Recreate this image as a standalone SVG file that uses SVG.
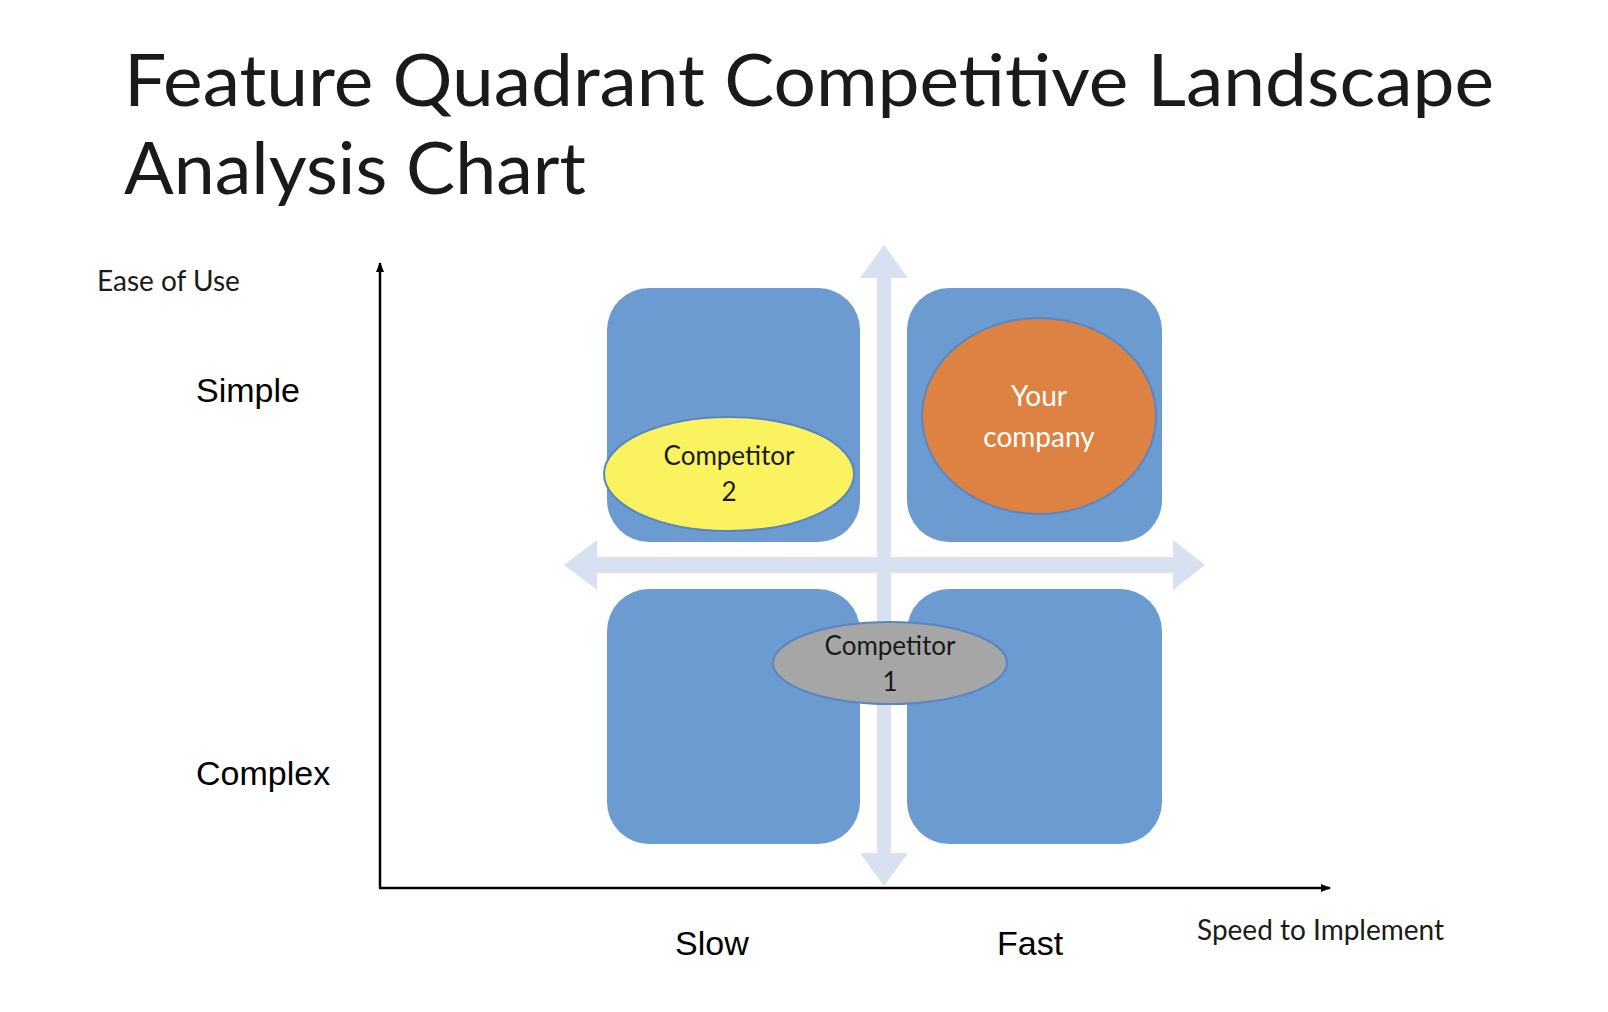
<svg xmlns="http://www.w3.org/2000/svg" width="1608" height="1012" viewBox="0 0 1608 1012">
<defs>
<style>
.c{font-family:Lato,"Open Sans",sans-serif;fill:#1a1a1a}
.a{font-family:"Liberation Sans",Arial,sans-serif;fill:#000;font-size:34px}
.box{fill:#6b9bd1}
.lt{fill:#d7e1f1}
.el{stroke:#5b85c0;stroke-width:2}
</style>
<marker id="ah" markerWidth="10" markerHeight="8" refX="9" refY="4" orient="auto" markerUnits="userSpaceOnUse"><path d="M0,0L10,4L0,8z" fill="#000"/></marker>
</defs>
<rect width="1608" height="1012" fill="#fff"/>
<text class="c" x="124" y="106" font-size="72" textLength="1370" lengthAdjust="spacingAndGlyphs">Feature Quadrant Competitive Landscape</text>
<text class="c" x="124" y="194" font-size="72" textLength="462" lengthAdjust="spacingAndGlyphs">Analysis Chart</text>
<text class="c" x="97" y="291" font-size="28">Ease of Use</text>
<text class="a" x="196" y="402">Simple</text>
<text class="a" x="196" y="785">Complex</text>
<text class="a" x="675" y="955">Slow</text>
<text class="a" x="997" y="955">Fast</text>
<text class="c" x="1197" y="940" font-size="28">Speed to Implement</text>
<g id="connectors">
<line x1="380" y1="888" x2="380" y2="263" stroke="#000" stroke-width="2.5" marker-end="url(#ah)"/>
<line x1="379" y1="888" x2="1330" y2="888" stroke="#000" stroke-width="2.5" marker-end="url(#ah)"/>
</g>
<g id="quadrants">
<rect class="box" x="607" y="288" width="253" height="254" rx="42"/>
<rect class="box" x="907" y="288" width="255" height="254" rx="42"/>
<rect class="box" x="607" y="589" width="253" height="255" rx="42"/>
<rect class="box" x="907" y="589" width="255" height="255" rx="42"/>
</g>
<g id="cross">
<path class="lt" d="M884,245L908,278H891V557H1173V540L1205,565L1173,590V573H891V853H908L884,886L860,853H877V573H597V590L564,565L597,540V557H877V278H860Z"/>
</g>
<g id="competitor2">
<ellipse class="el" cx="729" cy="474" rx="125" ry="57" fill="#fbf25f"/>
<text class="c" x="729" y="465" font-size="26" text-anchor="middle">Competitor</text>
<text class="c" x="729" y="501" font-size="26" text-anchor="middle">2</text>
</g>
<g id="yourcompany">
<ellipse class="el" cx="1039" cy="416" rx="117" ry="98" fill="#dd8242"/>
<text x="1039" y="406" font-family="Lato,'Open Sans',sans-serif" font-size="28" fill="#fff" text-anchor="middle">Your</text>
<text x="1039" y="447" font-family="Lato,'Open Sans',sans-serif" font-size="28" fill="#fff" text-anchor="middle">company</text>
</g>
<g id="competitor1">
<ellipse class="el" cx="890" cy="663" rx="117" ry="41" fill="#a6a6a6"/>
<text class="c" x="890" y="655" font-size="26" text-anchor="middle">Competitor</text>
<text class="c" x="890" y="691" font-size="26" text-anchor="middle">1</text>
</g>
</svg>
